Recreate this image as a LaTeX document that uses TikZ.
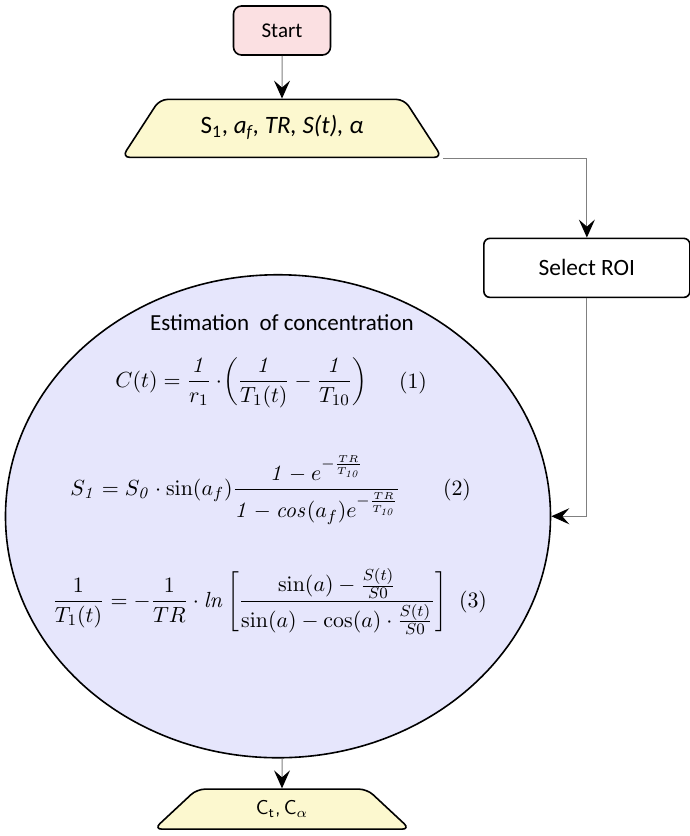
\documentclass[tikz,border=0pt]{standalone}
\usepackage[no-math]{fontspec}
\setmainfont{Carlito}
\usepackage{xcolor}
\usetikzlibrary{shapes.geometric,arrows.meta,positioning}

\definecolor{startpink}{RGB}{251,224,226}
\definecolor{ioyellow}{RGB}{252,248,207}
\definecolor{estblue}{RGB}{230,230,252}

\begin{document}
\begin{tikzpicture}[node distance=1.72cm, auto]
    % Define styles
    \tikzstyle{startstop} = [rectangle, rounded corners=4pt, minimum width=48.5pt, minimum height=24.5pt, text centered, draw=black, line width=0.8pt, fill=startpink, font=\fontsize{10.5}{12}\selectfont]
    \tikzstyle{io} = [trapezium, trapezium left angle=57, trapezium right angle=57, trapezium stretches body, rounded corners=4pt, minimum width=160pt, text height=8pt, text depth=2.5pt, inner ysep=9.25pt, text centered, draw=black, line width=0.8pt, fill=ioyellow, font=\fontsize{12.5}{14}\selectfont]
    \tikzstyle{process} = [rectangle, rounded corners=3pt, minimum width=103pt, minimum height=29.5pt, text centered, draw=black, line width=0.8pt, fill=white, font=\fontsize{11.7}{13}\selectfont]
    \tikzstyle{estimate} = [ellipse, minimum width=272.5pt, minimum height=241.5pt, inner sep=0pt, draw=black, line width=0.8pt, fill=estblue]
    \tikzstyle{eqn} = [anchor=west, inner sep=0pt, font=\fontsize{11}{13}\selectfont]
    \tikzstyle{eqnum} = [inner sep=0pt, font=\fontsize{11}{13}\selectfont]
    \tikzstyle{arrow} = [draw=gray, line width=0.5pt, -{Stealth[black, length=9pt, width=8pt, inset=3.5pt]}]

    % Page size
    \useasboundingbox (-141pt,15.25pt) rectangle (204pt,-402.75pt);

    % Nodes
    \node[startstop] (start) {Start};
    \node[io, below of=start] (input) {S\textsubscript{1}, \textit{a\textsubscript{f}, TR, S(t), α}};
    \node[process, right of=input, xshift=103.5pt, yshift=-69.75pt] (roi) {Select ROI};
    \node[estimate, below of=input, yshift=-145pt, xshift=-2pt] (est) {};
    \node[io, trapezium left angle=43, trapezium right angle=43, minimum width=128pt, inner ysep=4.75pt, font=\fontsize{10}{12}\sffamily, below of=est, yshift=-97.5pt, xshift=2pt] (output) {C\textsubscript{t},\,C\textsubscript{$\alpha$}};

    % Text in the ellipse
    \node[font=\fontsize{11.5}{13}\selectfont] (title) at ([xshift=2pt, yshift=96.75pt]est.center) {Estimation\ \ of concentration};
    \node[eqn] (eq1) at ([xshift=-81.5pt, yshift=66.75pt]est.center) {$\displaystyle C(t)=\frac{\mathit{1}}{r_1}\cdot\!\biggl(\frac{\mathit{1}}{T_1(t)}-\frac{\mathit{1}}{T_{10}}\biggr)$};
    \node[eqnum] (num1) at ([xshift=67.5pt, yshift=66.75pt]est.center) {$(1)$};
    \node[eqn] (eq2) at ([xshift=-104pt, yshift=13.25pt]est.center) {$\displaystyle S_{\mathit{1}}=S_{\mathit{0}}\cdot\sin\bigl(a_f\bigr)\frac{\mathit{1}-e^{-\frac{TR}{T_{\mathit{10}}}}}{\mathit{1}-\mathit{cos}\bigl(a_f\bigr)e^{-\frac{TR}{T_{\mathit{10}}}}}$};
    \node[eqnum] (num2) at ([xshift=89.5pt, yshift=13.25pt]est.center) {$(2)$};
    \node[eqn] (eq3) at ([xshift=-113pt, yshift=-42.75pt]est.center) {$\displaystyle \frac{1}{T_1(t)}=-\frac{1}{TR}\cdot\mathit{ln}\left[\frac{\sin(a)-\frac{S(t)}{S0}}{\sin(a)-\cos(a)\cdot\frac{S(t)}{S0}}\right]$};
    \node[eqnum] (num3) at ([xshift=97.5pt, yshift=-42.75pt]est.center) {$(3)$};

    % Connections
    \draw[arrow] (start) -- (input);
    \draw[arrow] (input.bottom right corner) -| (roi.north);
    \draw[arrow] (roi.south) |- (est.east);
    \draw[arrow] (est.south -| output.north) -- (output);
\end{tikzpicture}
\end{document}
